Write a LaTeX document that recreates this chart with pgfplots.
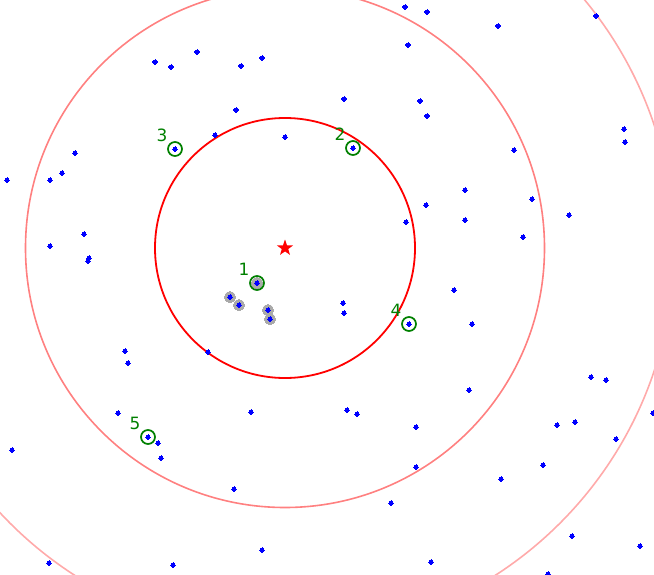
\documentclass[border=0pt]{standalone}
\usepackage{pgfplots}
\pgfplotsset{compat=1.18}
\usepackage{pgfplotstable}
\usepackage{fontspec}
\setmainfont{DejaVu Sans}
\definecolor{mgreen}{HTML}{008000}
\definecolor{ring2}{HTML}{FF8080}
\definecolor{ring3}{HTML}{FFAAAA}
\definecolor{halo}{HTML}{AAAAAA}
\pgfdeclareplotmark{fstar}{%
  \pgfpathmoveto{\pgfpointpolar{90}{\pgfplotmarksize}}%
  \pgfpathlineto{\pgfpointpolar{126}{0.40\pgfplotmarksize}}%
  \pgfpathlineto{\pgfpointpolar{162}{\pgfplotmarksize}}%
  \pgfpathlineto{\pgfpointpolar{198}{0.40\pgfplotmarksize}}%
  \pgfpathlineto{\pgfpointpolar{234}{\pgfplotmarksize}}%
  \pgfpathlineto{\pgfpointpolar{270}{0.40\pgfplotmarksize}}%
  \pgfpathlineto{\pgfpointpolar{306}{\pgfplotmarksize}}%
  \pgfpathlineto{\pgfpointpolar{342}{0.40\pgfplotmarksize}}%
  \pgfpathlineto{\pgfpointpolar{18}{\pgfplotmarksize}}%
  \pgfpathlineto{\pgfpointpolar{54}{0.40\pgfplotmarksize}}%
  \pgfpathclose
  \pgfusepathqfill}

\pgfplotstableread{
x y
405 7
427 12
498 26
596 16
408 45
197 52
155 62
171 67
241 66
262 58
344 99
420 101
427 116
236 110
215 135
285 137
175 149
353 148
75 153
62 173
50 180
7 180
624 129
625 142
514 150
465 190
532 199
426 205
569 215
406 222
465 220
523 237
84 234
50 246
89 258
88 261
257 283
230 297
239 305
268 310
270 319
343 303
344 313
454 290
409 324
472 324
125 351
128 363
208 352
591 377
606 380
469 390
118 413
251 412
347 410
357 414
148 437
158 443
161 458
416 427
557 425
575 422
653 413
616 439
12 450
416 467
543 465
501 479
234 489
391 503
262 550
572 536
640 546
49 563
173 565
431 562
548 574
}\bluepts

\pgfplotstableread{
x y
257 283
230 297
239 305
268 310
270 319
}\graypts

\pgfplotstableread{
x y label
257 283 1
353 148 2
175 149 3
409 324 4
148 437 5
}\greenpts

\begin{document}
\begin{tikzpicture}
\useasboundingbox (0,0) rectangle (654bp,575bp);
\begin{axis}[
  at={(0,0)}, anchor=south west,
  scale only axis, width=654bp, height=575bp,
  xmin=0, xmax=654, ymin=0, ymax=575, y dir=reverse,
  hide axis, clip=true,
]
\draw[ring3, line width=1.6bp] (axis cs:285,248) circle [radius=389];
\draw[ring2, line width=1.6bp] (axis cs:285,248) circle [radius=259.5];
\draw[red, line width=1.8bp] (axis cs:285,248) circle [radius=130];

\addplot[halo, only marks, mark=*, mark size=5.5bp, mark options={draw=halo, fill=halo, line width=0pt}] table[x=x,y=y] {\graypts};

\addplot[mgreen, only marks, mark=o, mark size=7bp, mark options={draw=mgreen, line width=1.7bp},
  nodes near coords, point meta=explicit symbolic,
  nodes near coords style={anchor=center, xshift=-13bp, yshift=14bp, text=mgreen, font=\fontsize{17}{20}\selectfont, inner sep=0pt}]
  table[x=x,y=y,meta=label] {\greenpts};

\addplot[blue, only marks, mark=*, mark size=2.1bp, mark options={draw=blue, fill=blue, line width=0pt}] table[x=x,y=y] {\bluepts};

\addplot[red, only marks, mark=fstar, mark size=8.5bp, mark options={fill=red, draw=red}] coordinates {(285,248)};
\end{axis}
\end{tikzpicture}
\end{document}
